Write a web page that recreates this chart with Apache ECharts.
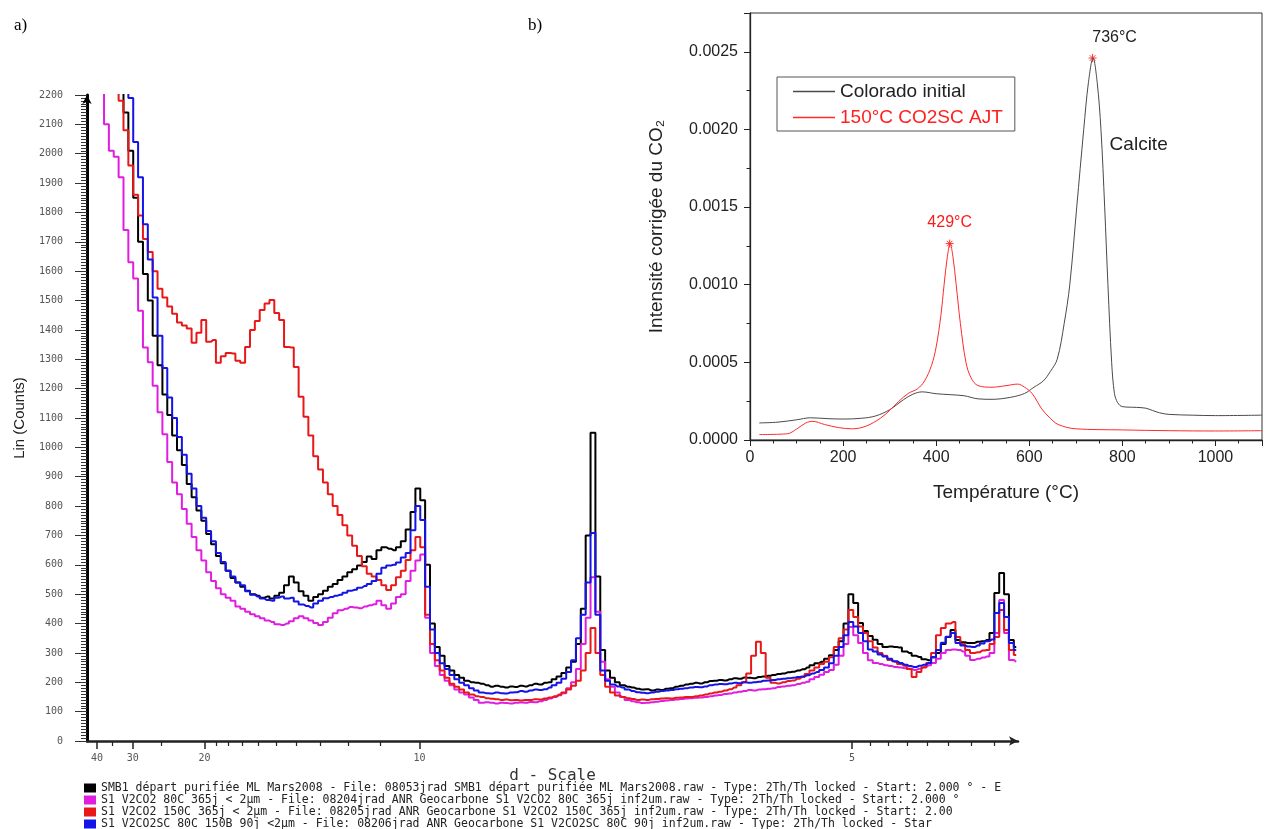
<!DOCTYPE html>
<html><head><meta charset="utf-8">
<script src="https://cdn.jsdelivr.net/npm/echarts@6/dist/echarts.min.js"></script>
<style>html,body{margin:0;padding:0;background:#fff}#c{width:1267px;height:829px}</style>
</head><body><div id="c"></div>
<script>
// ---------- Panel a) XRD pattern (x = 2theta, deg, Cu Ka) ----------
const twoTheta = [
2.2,2.3,2.4,2.5,2.6,2.7,2.8,2.9,3.0,3.1,
3.2,3.3,3.4,3.5,3.6,3.7,3.8,3.9,4.0,4.1,
4.2,4.3,4.4,4.5,4.6,4.7,4.8,4.9,5.0,5.1,
5.2,5.3,5.4,5.5,5.6,5.7,5.8,5.9,6.0,6.1,
6.2,6.3,6.4,6.5,6.6,6.7,6.8,6.9,7.0,7.1,
7.2,7.3,7.4,7.5,7.6,7.7,7.8,7.9,8.0,8.1,
8.2,8.3,8.4,8.5,8.6,8.7,8.8,8.9,9.0,9.1,
9.2,9.3,9.4,9.5,9.6,9.7,9.8,9.9,10.0,10.1,
10.2,10.3,10.4,10.5,10.6,10.7,10.8,10.9,11.0,11.1,
11.2,11.3,11.4,11.5,11.6,11.7,11.8,11.9,12.0,12.1,
12.2,12.3,12.4,12.5,12.6,12.7,12.8,12.9,13.0,13.1,
13.2,13.3,13.4,13.5,13.6,13.7,13.8,13.9,14.0,14.1,
14.2,14.3,14.4,14.5,14.6,14.7,14.8,14.9,15.0,15.1,
15.2,15.3,15.4,15.5,15.6,15.7,15.8,15.9,16.0,16.1,
16.2,16.3,16.4,16.5,16.6,16.7,16.8,16.9,17.0,17.1,
17.2,17.3,17.4,17.5,17.6,17.7,17.8,17.9,18.0,18.1,
18.2,18.3,18.4,18.5,18.6,18.7,18.8,18.9,19.0,19.1,
19.2,19.3,19.4,19.5,19.6,19.7,19.8,19.9,20.0,20.1,
20.2,20.3,20.4,20.5,20.6,20.7,20.8,20.9,21.0,21.1];

const countsSMB1 = [
3200,3000,2800,2600,2450,2300,2140,2010,1850,1700,
1590,1500,1380,1280,1180,1110,1040,990,940,875,
830,785,750,705,670,630,605,580,555,540,
525,512,500,495,488,492,485,495,505,530,
560,540,510,495,478,490,500,512,525,535,
548,560,575,585,598,610,628,620,650,660,
655,650,660,680,720,780,860,820,600,400,
320,290,255,240,225,215,205,200,198,195,
190,185,188,185,182,186,184,188,186,190,
195,192,198,200,210,220,232,250,270,330,
450,700,1050,560,310,240,215,200,190,185,
182,178,175,176,172,175,174,178,180,185,
188,192,195,198,196,200,204,205,208,206,
210,214,212,216,215,214,218,220,222,225,
228,230,234,236,240,244,250,258,265,270,
280,292,310,340,400,500,470,402,375,358,
345,330,320,322,320,318,305,300,290,286,
278,275,285,300,330,354,378,344,336,334,
334,338,340,344,368,504,572,500,344,320];

const counts80C = [
2600,2230,2100,2010,1990,1920,1740,1630,1575,1465,
1340,1290,1210,1120,1045,950,880,840,790,740,
695,650,615,575,545,520,500,488,478,458,
450,440,432,425,418,410,405,398,395,400,
408,418,425,418,410,402,395,405,420,435,
445,450,456,455,452,458,462,466,478,462,
450,468,490,500,545,580,615,635,420,300,
255,225,205,190,175,165,158,148,140,130,
132,130,128,130,129,128,130,131,130,133,
132,135,140,145,150,156,163,180,200,245,
330,420,558,440,270,210,185,165,150,140,
135,132,129,130,132,134,136,138,140,141,
143,145,146,147,148,150,152,155,157,160,
162,165,168,170,174,172,175,176,178,180,
184,186,188,190,194,198,202,210,218,226,
235,242,260,290,330,388,360,334,300,275,
266,262,258,255,252,250,248,246,242,246,
252,258,266,280,300,310,312,310,305,290,
276,280,284,288,300,368,480,368,276,270];

const counts150C = [
3300,3000,2750,2500,2300,2180,2080,1960,1860,1790,
1710,1665,1600,1540,1510,1480,1455,1425,1415,1405,
1356,1390,1434,1360,1366,1288,1310,1321,1320,1295,
1288,1342,1400,1430,1468,1490,1502,1458,1434,1342,
1340,1274,1172,1104,1040,970,925,880,840,800,
770,735,700,665,630,595,570,560,548,530,
514,530,558,580,616,650,695,660,430,330,
275,240,215,195,185,175,165,158,152,150,
146,144,142,140,141,139,140,138,140,140,
142,141,145,148,152,158,165,175,188,205,
240,300,385,300,225,185,165,155,150,146,
143,140,141,140,142,143,145,146,145,147,
148,150,150,152,155,158,162,165,168,172,
176,182,190,200,230,290,338,300,215,198,
196,200,204,206,212,218,228,240,250,262,
270,285,320,350,380,446,422,390,368,340,
318,300,290,276,270,262,256,245,218,235,
250,266,300,360,385,400,405,354,330,310,
300,302,308,310,330,354,446,378,310,293];

const countsSC80C = [
3400,3200,3000,2800,2600,2420,2290,2190,2040,1920,
1760,1640,1510,1380,1270,1170,1100,1035,975,910,
860,800,760,715,680,640,610,580,560,540,
530,510,498,492,485,480,478,488,492,485,
488,475,465,460,455,468,478,486,490,495,
498,505,512,515,522,528,535,545,570,590,
598,600,608,625,640,718,800,753,525,380,
300,265,245,225,210,198,190,180,172,165,
163,162,165,163,162,165,166,170,168,172,
175,174,176,182,190,198,212,235,275,350,
430,540,708,430,240,205,192,186,182,175,
170,166,164,163,165,168,170,172,174,176,
178,180,182,184,183,186,190,192,194,193,
196,198,197,200,198,200,202,205,206,208,
210,212,214,215,218,220,224,230,235,242,
250,265,290,320,360,405,390,368,340,312,
305,295,288,280,272,266,260,255,252,256,
260,266,285,310,335,355,368,334,325,322,
320,325,332,340,346,436,470,422,334,310];

const xrdNames = [
'SMB1 départ purifiée ML Mars2008 - File: 08053jrad SMB1 départ purifiée ML Mars2008.raw - Type: 2Th/Th locked - Start: 2.000 ° - E',
'S1 V2CO2 80C 365j < 2µm - File: 08204jrad ANR Geocarbone S1 V2CO2 80C 365j inf2um.raw - Type: 2Th/Th locked - Start: 2.000 °',
'S1 V2CO2 150C 365j < 2µm - File: 08205jrad ANR Geocarbone S1 V2CO2 150C 365j inf2um.raw - Type: 2Th/Th locked - Start: 2.00',
'S1 V2CO2SC 80C 150B 90j <2µm - File: 08206jrad ANR Geocarbone S1 V2CO2SC 80C 90j inf2um.raw - Type: 2Th/Th locked - Star'];
const xrdColors = ['#000000', '#e01ee0', '#e81818', '#1414e6'];
const xrdCounts = [countsSMB1, counts80C, counts150C, countsSC80C];

// d-spacing tick labels (Å) of the d-Scale axis
const dLabelTicks = [40, 30, 20, 10, 5];
const dMinorTicks = [35, 25, 19, 18, 17, 16, 15, 14, 13, 12, 11, 4.9, 4.8, 4.7, 4.6, 4.5, 4.4, 4.3];
const dAxisEnd = 4.2;

// ---------- Panel b) CO2 evolution ----------
const coloradoTemp = [20,60,100,130,170,200,240,270,300,330,350,370,400,430,460,490,520,560,590,610,630,645,660,675,687,702,717,727,737,746,754,762,769,777,783,790,800,830,850,865,880,900,950,1000,1100];
const coloradoIntensity = [0.00011,0.000115,0.00013,0.000143,0.000137,0.000135,0.00014,0.000155,0.000195,0.00026,0.000295,0.00031,0.000298,0.000292,0.000285,0.000265,0.000262,0.000275,0.0003,0.00034,0.00038,0.00044,0.00052,0.00075,0.001,0.0015,0.002,0.0023,0.00246,0.0023,0.002,0.0015,0.001,0.0005,0.0003,0.00024,0.000215,0.00021,0.000205,0.00019,0.000175,0.000165,0.00016,0.000157,0.00016];
const ajtTemp = [20,80,100,120,135,160,190,220,250,280,300,320,340,360,375,390,400,410,417,424,430,436,443,452,464,475,490,520,550,575,590,606,627,645,662,700,800,900,1000,1100];
const ajtIntensity = [0.000035,0.00004,0.00007,0.00011,0.00012,0.0001,0.00008,0.000072,0.00009,0.00014,0.00019,0.00025,0.0003,0.00033,0.00038,0.00048,0.0006,0.0008,0.001,0.00118,0.001265,0.00118,0.001,0.00075,0.0005,0.0004,0.00035,0.00034,0.00035,0.00036,0.00034,0.0003,0.0002,0.00014,0.0001,0.000072,0.000065,0.00006,0.000058,0.00006];
const coloradoPeak = [736, 0.00246];
const ajtPeak = [429, 0.001265];
const calciteLabelPos = [835, 0.0019];
const tgaNames = ['Colorado initial', '150°C CO2SC AJT'];
const tgaColors = ['#4a4a4a', '#ff2a2a'];

// ---------- helpers ----------
const LAMBDA = 1.5406;
const toTT = d => 2 * Math.asin(LAMBDA / (2 * d)) * 180 / Math.PI;
const toD = tt => LAMBDA / (2 * Math.sin(tt * Math.PI / 360));
const starPath = 'path://M5,0L5,10M0,5L10,5M1.6,1.6L8.4,8.4M1.6,8.4L8.4,1.6';
const SANS = '"Liberation Sans", Arial, sans-serif';
const MONO = '"DejaVu Sans Mono", monospace';

const chart = echarts.init(document.getElementById('c'), null, {renderer: 'canvas'});

const xrdSeries = xrdCounts.map((arr, k) => ({
  name: xrdNames[k], type: 'line', xAxisIndex: 0, yAxisIndex: 0,
  data: twoTheta.map((t, i) => [t, arr[i]]),
  step: 'middle', showSymbol: false, clip: true,
  lineStyle: {color: xrdColors[k], width: 2}, itemStyle: {color: xrdColors[k]},
  z: 2 + k
}));

const option = {
  animation: false,
  backgroundColor: '#fff',
  grid: [
    {left: 87, top: 95, width: 931, height: 646},
    {left: 750, top: 13, width: 512, height: 427, show: true, borderColor: '#333', borderWidth: 1, backgroundColor: '#fff'}
  ],
  xAxis: [
    {gridIndex: 0, type: 'value', position: 'bottom', min: 2, max: toTT(dAxisEnd),
     axisLine: {show: true, lineStyle: {color: '#222', width: 2.5}, symbol: ['none', 'arrow'], symbolSize: [7, 9]},
     axisTick: {show: true, customValues: dLabelTicks.map(toTT), length: 8, lineStyle: {color: '#222', width: 1.5}},
     axisLabel: {customValues: dLabelTicks.map(toTT), formatter: v => String(Math.round(toD(v))),
                 fontFamily: MONO, fontSize: 10, color: '#555', margin: 12},
     splitLine: {show: false},
     name: 'd - Scale', nameLocation: 'middle', nameGap: 24,
     nameTextStyle: {fontFamily: MONO, fontSize: 16, color: '#333'}},
    {gridIndex: 0, type: 'value', position: 'bottom', offset: 0, min: 2, max: toTT(dAxisEnd),
     axisLine: {show: false},
     axisTick: {show: true, customValues: dMinorTicks.map(toTT), length: 5, lineStyle: {color: '#222', width: 1.2}},
     axisLabel: {show: false}, splitLine: {show: false}},
    {gridIndex: 1, type: 'value', min: 0, max: 1100, interval: 200,
     axisLine: {show: true, lineStyle: {color: '#222', width: 1.3}},
     axisTick: {length: 6, lineStyle: {color: '#222'}},
     minorTick: {show: true, splitNumber: 4, length: 3.5, lineStyle: {color: '#222'}},
     axisLabel: {fontFamily: SANS, fontSize: 16, color: '#222', margin: 10, showMaxLabel: false, formatter: v => String(v)},
     splitLine: {show: false}, minorSplitLine: {show: false},
     name: 'Température (°C)', nameLocation: 'middle', nameGap: 43,
     nameTextStyle: {fontFamily: SANS, fontSize: 19, color: '#222'}}
  ],
  yAxis: [
    {gridIndex: 0, type: 'value', min: 0, max: 2200, interval: 100,
     axisLine: {show: true, lineStyle: {color: '#000', width: 3}, symbol: ['none', 'arrow'], symbolSize: [7, 9]},
     axisTick: {length: 12, lineStyle: {color: '#333', width: 1}},
     minorTick: {show: true, splitNumber: 10, length: 6, lineStyle: {color: '#333', width: 1}},
     axisLabel: {fontFamily: MONO, fontSize: 10, color: '#555', margin: 24, formatter: v => String(v)},
     splitLine: {show: false}, minorSplitLine: {show: false},
     name: 'Lin (Counts)', nameLocation: 'middle', nameGap: 60, nameRotate: 90,
     nameTextStyle: {fontFamily: '"Liberation Sans Narrow", ' + SANS, fontSize: 15, color: '#222'}},
    {gridIndex: 1, type: 'value', min: 0, max: 0.00275, interval: 0.0005,
     axisLine: {show: true, lineStyle: {color: '#222', width: 1.3}},
     axisTick: {length: 6, lineStyle: {color: '#222'}},
     minorTick: {show: true, splitNumber: 2, length: 3.5, lineStyle: {color: '#222'}},
     axisLabel: {fontFamily: SANS, fontSize: 16, color: '#222', margin: 12, showMaxLabel: false, formatter: v => v.toFixed(4)},
     splitLine: {show: false}, minorSplitLine: {show: false},
     name: 'Intensité corrigée du CO₂', nameLocation: 'middle', nameGap: 84, nameRotate: 90,
     nameTextStyle: {fontFamily: SANS, fontSize: 19, color: '#222'}}
  ],
  legend: [
    {data: xrdNames, orient: 'vertical', left: 84, top: 782, height: 60, padding: 0, itemGap: 0,
     itemWidth: 12, itemHeight: 9, icon: 'rect', selectedMode: false,
     textStyle: {fontFamily: MONO, fontSize: 11.5, color: '#222', lineHeight: 11.5}},
    {data: [
       {name: tgaNames[0], textStyle: {color: '#222'}, itemStyle: {color: tgaColors[0]}},
       {name: tgaNames[1], textStyle: {color: '#ff2020'}, itemStyle: {color: tgaColors[1]}}],
     orient: 'vertical', left: 777, top: 77, padding: [4, 12, 3, 16], itemGap: 5, z: 20,
     itemWidth: 42, itemHeight: 1.5, icon: 'rect', selectedMode: false,
     borderColor: '#555', borderWidth: 1, backgroundColor: '#fff',
     textStyle: {fontFamily: SANS, fontSize: 19, lineHeight: 21}}
  ],
  graphic: [
    {type: 'text', left: 14, top: 17, style: {text: 'a)', font: '17px "Liberation Serif", serif', fill: '#000'}},
    {type: 'text', left: 528, top: 17, style: {text: 'b)', font: '17px "Liberation Serif", serif', fill: '#000'}}
  ],
  series: xrdSeries.concat([
    {name: tgaNames[0], type: 'line', xAxisIndex: 2, yAxisIndex: 1,
     data: coloradoTemp.map((t, i) => [t, coloradoIntensity[i]]),
     smooth: 0.35, showSymbol: false, symbol: 'none', z: 10,
     lineStyle: {color: tgaColors[0], width: 1}, itemStyle: {color: tgaColors[0]},
     markPoint: {
       silent: true,
       data: [
         {coord: coloradoPeak, symbol: starPath, symbolSize: 8,
          itemStyle: {color: 'none', borderColor: '#ff3030', borderWidth: 1},
          label: {show: true, position: 'top', distance: 6, offset: [22, 0], formatter: coloradoPeak[0] + '°C',
                  fontFamily: SANS, fontSize: 16, color: '#222'}},
         {coord: calciteLabelPos, symbol: 'circle', symbolSize: 0,
          itemStyle: {color: 'transparent'},
          label: {show: true, position: 'inside', formatter: 'Calcite', fontFamily: SANS, fontSize: 19, color: '#222'}}
       ]
     }},
    {name: tgaNames[1], type: 'line', xAxisIndex: 2, yAxisIndex: 1,
     data: ajtTemp.map((t, i) => [t, ajtIntensity[i]]),
     smooth: 0.35, showSymbol: false, symbol: 'none', z: 11,
     lineStyle: {color: tgaColors[1], width: 1}, itemStyle: {color: tgaColors[1]},
     markPoint: {
       silent: true,
       data: [
         {coord: ajtPeak, symbol: starPath, symbolSize: 8,
          itemStyle: {color: 'none', borderColor: '#ff3030', borderWidth: 1},
          label: {show: true, position: 'top', distance: 6, formatter: ajtPeak[0] + '°C',
                  fontFamily: SANS, fontSize: 16, color: '#ff1a1a'}}
       ]
     }}
  ])
};
chart.setOption(option);
</script>
</body></html>
